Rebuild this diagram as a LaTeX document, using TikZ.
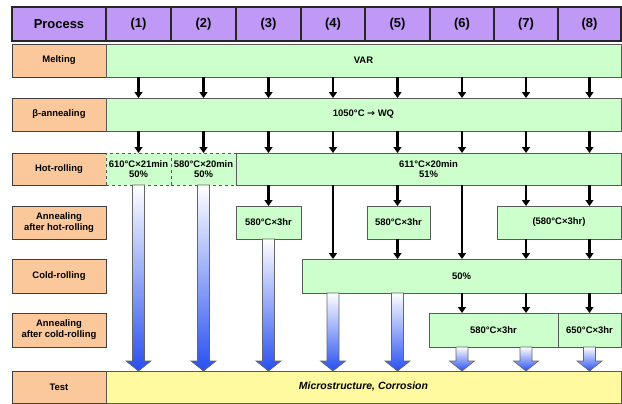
\documentclass[tikz,border=0pt]{standalone}
\usepackage{fontspec}
\setmainfont{Liberation Sans}
\newfontfamily\dejavu{DejaVu Sans}
\usetikzlibrary{arrows.meta,calc}
\definecolor{hdr}{RGB}{192,152,245}
\definecolor{lbl}{RGB}{250,200,155}
\definecolor{grn}{RGB}{204,255,204}
\definecolor{ylw}{RGB}{255,250,160}
\definecolor{arrowblue}{RGB}{40,80,240}
\tikzset{
  cellbase/.style={anchor=north west, inner sep=0pt, outer sep=0pt, align=center, font=\bfseries\fontsize{9.5}{10.5}\selectfont},
  hdrbox/.style={cellbase, fill=hdr, draw=black!85, line width=1.2bp, font=\bfseries\fontsize{13}{14}\selectfont},
  lblbox/.style={cellbase, fill=lbl, draw=black!75, line width=0.8bp, font=\bfseries\fontsize{9.5}{11}\selectfont},
  grnbox/.style={cellbase, fill=grn, draw=black!65, line width=0.8bp},
  dashbox/.style={grnbox, dashed},
  ylwbox/.style={cellbase, fill=ylw, draw=black!65, line width=0.8bp, font=\bfseries\itshape\fontsize{10.5}{12}\selectfont},
  blk/.style={line width=2.2bp, -{Triangle[width=8bp,length=6bp]}},
  grad/.style={top color=white, bottom color=arrowblue, draw=black!60, line width=0.6bp}
}
\newcommand\gradarrow[2]{%
  \shadedraw[grad] let \p1=(#1), \p2=(#2) in
    (\x1-6bp,\y1) -- (\x1+6bp,\y1) -- (\x1+6bp,\y2+10bp) -- (\x1+12.5bp,\y2+10bp)
    -- (\x1,\y2) -- (\x1-12.5bp,\y2+10bp) -- (\x1-6bp,\y2+10bp) -- cycle;}
\begin{document}
\begin{tikzpicture}[x=1bp,y=1bp]
\useasboundingbox (0,0) rectangle (622,-403);
% header
\node[hdrbox, minimum width=94bp, minimum height=34bp] (proc) at (12,-7) {Process};
\node[hdrbox, minimum width=65bp, minimum height=34bp] (p1) at (106,-7) {(1)};
\node[hdrbox, minimum width=65bp, minimum height=34bp] (p2) at (171,-7) {(2)};
\node[hdrbox, minimum width=65bp, minimum height=34bp] (p3) at (236,-7) {(3)};
\node[hdrbox, minimum width=64bp, minimum height=34bp] (p4) at (301,-7) {(4)};
\node[hdrbox, minimum width=65bp, minimum height=34bp] (p5) at (365,-7) {(5)};
\node[hdrbox, minimum width=64bp, minimum height=34bp] (p6) at (430,-7) {(6)};
\node[hdrbox, minimum width=64bp, minimum height=34bp] (p7) at (494,-7) {(7)};
\node[hdrbox, minimum width=63bp, minimum height=34bp] (p8) at (558,-7) {(8)};
% row labels
\node[lblbox, minimum width=94bp, minimum height=33bp] (lmelt) at (12,-44) {Melting};
\node[lblbox, minimum width=94bp, minimum height=33bp] (lbeta) at (12,-98) {β-annealing};
\node[lblbox, minimum width=94bp, minimum height=32bp] (lhot) at (12,-153) {Hot-rolling};
\node[lblbox, minimum width=94bp, minimum height=33bp] (lah) at (12,-206) {Annealing\\after hot-rolling};
\node[lblbox, minimum width=94bp, minimum height=34bp] (lcold) at (12,-259) {Cold-rolling};
\node[lblbox, minimum width=94bp, minimum height=34bp] (lac) at (12,-313) {Annealing\\after cold-rolling};
\node[lblbox, minimum width=94bp, minimum height=32bp] (ltest) at (12,-371) {Test};
% process boxes
\node[grnbox, minimum width=515bp, minimum height=33bp] (melt) at (106,-44) {VAR};
\node[grnbox, minimum width=515bp, minimum height=33bp] (beta) at (106,-98) {1050°C {\dejavu\bfseries →} WQ};
\node[dashbox, minimum width=65bp, minimum height=32bp] (h1) at (106,-153) {610°C×21min\\50\%};
\node[dashbox, minimum width=65bp, minimum height=32bp] (h2) at (171,-153) {580°C×20min\\50\%};
\node[grnbox, minimum width=385bp, minimum height=32bp] (h3) at (236,-153) {611°C×20min\\51\%};
\node[grnbox, minimum width=65bp, minimum height=33bp] (a3) at (236,-206) {580°C×3hr};
\node[grnbox, minimum width=63bp, minimum height=33bp] (a5) at (367,-206) {580°C×3hr};
\node[grnbox, minimum width=124bp, minimum height=33bp] (a78) at (497,-206) {(580°C×3hr)};
\node[grnbox, minimum width=319bp, minimum height=34bp] (cr) at (302,-259) {50\%};
\node[grnbox, minimum width=129bp, minimum height=34bp] (ac67) at (429,-313) {580°C×3hr};
\node[grnbox, minimum width=63bp, minimum height=34bp] (ac8) at (558,-313) {650°C×3hr};
\node[ylwbox, minimum width=515bp, minimum height=32bp] (test) at (106,-371) {Microstructure, Corrosion};
% melting -> beta
\foreach \i in {1,...,8} \draw[blk] (p\i |- melt.south) -- (p\i |- beta.north);
% beta -> hot-rolling
\draw[blk] (p1 |- beta.south) -- (h1.north);
\draw[blk] (p2 |- beta.south) -- (h2.north);
\foreach \i in {3,...,8} \draw[blk] (p\i |- beta.south) -- (p\i |- h3.north);
% hot-rolling -> next
\draw[blk] (p3 |- h3.south) -- (p3 |- a3.north);
\draw[blk] (p4 |- h3.south) -- (p4 |- cr.north);
\draw[blk] (p5 |- h3.south) -- (p5 |- a5.north);
\draw[blk] (p5 |- a5.south) -- (p5 |- cr.north);
\draw[blk] (p6 |- h3.south) -- (p6 |- cr.north);
\draw[blk] (p7 |- h3.south) -- (p7 |- a78.north);
\draw[blk] (p7 |- a78.south) -- (p7 |- cr.north);
\draw[blk] (p8 |- h3.south) -- (p8 |- a78.north);
\draw[blk] (p8 |- a78.south) -- (p8 |- cr.north);
% cold-rolling -> annealing
\draw[blk] (p6 |- cr.south) -- (p6 |- ac67.north);
\draw[blk] (p7 |- cr.south) -- (p7 |- ac67.north);
\draw[blk] (p8 |- cr.south) -- (p8 |- ac8.north);
% gradient arrows to test
\gradarrow{p1 |- h1.south}{p1 |- test.north}
\gradarrow{p2 |- h2.south}{p2 |- test.north}
\gradarrow{p3 |- a3.south}{p3 |- test.north}
\gradarrow{p4 |- cr.south}{p4 |- test.north}
\gradarrow{p5 |- cr.south}{p5 |- test.north}
\gradarrow{p6 |- ac67.south}{p6 |- test.north}
\gradarrow{p7 |- ac67.south}{p7 |- test.north}
\gradarrow{p8 |- ac8.south}{p8 |- test.north}
\end{tikzpicture}
\end{document}
